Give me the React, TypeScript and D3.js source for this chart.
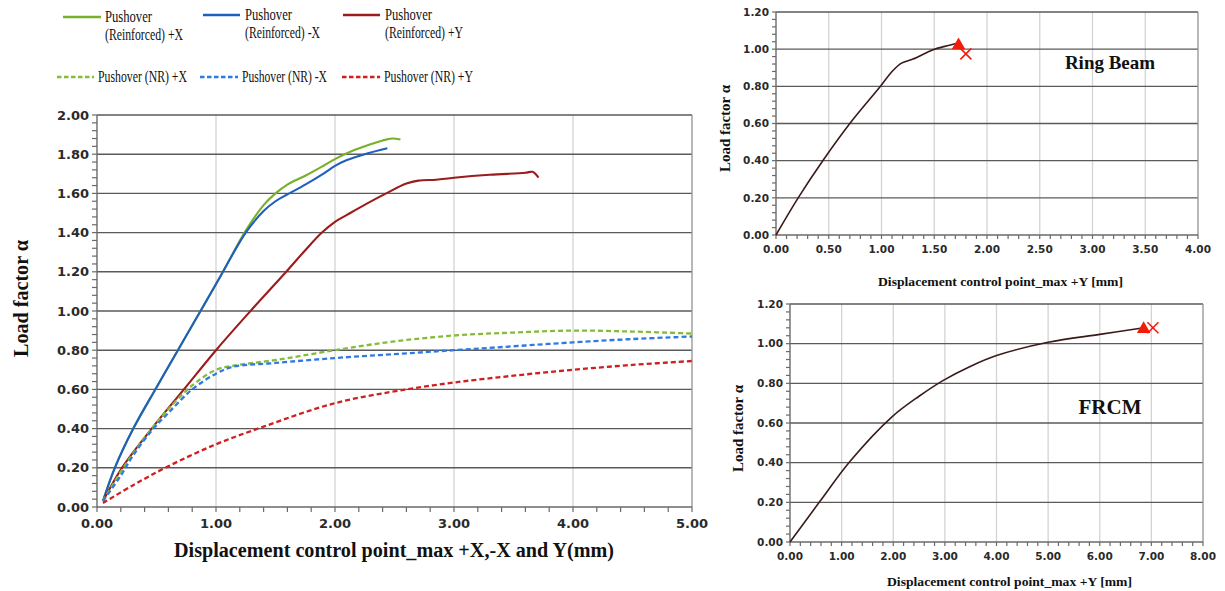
import React from "react";
import * as d3 from "d3";

// ---------- Main chart data ----------
const reinfPX: [number, number][] = [
  [0.05, 0.03], [0.15, 0.2], [0.305, 0.4], [0.49, 0.6], [0.67, 0.79], [0.87, 1.0], [1.04, 1.18],
  [1.25, 1.41], [1.4, 1.54], [1.5, 1.6], [1.6, 1.645], [1.75, 1.69], [1.9, 1.74], [2.0, 1.775],
  [2.1, 1.805], [2.25, 1.84], [2.4, 1.87], [2.48, 1.88], [2.55, 1.875],
];
const reinfNX: [number, number][] = [
  [0.05, 0.03], [0.15, 0.2], [0.305, 0.4], [0.49, 0.6], [0.67, 0.79], [0.87, 1.0], [1.04, 1.18],
  [1.25, 1.4], [1.4, 1.51], [1.5, 1.56], [1.6, 1.595], [1.75, 1.645], [1.9, 1.7], [2.0, 1.74],
  [2.1, 1.77], [2.25, 1.8], [2.44, 1.83],
];
const reinfPY: [number, number][] = [
  [0.05, 0.03], [0.21, 0.2], [0.46, 0.4], [0.73, 0.6], [1.0, 0.8], [1.29, 1.0], [1.59, 1.2],
  [1.75, 1.31], [1.89, 1.4], [2.0, 1.455], [2.1, 1.49], [2.2, 1.525], [2.43, 1.6], [2.6, 1.65],
  [2.7, 1.665], [2.85, 1.67], [3.0, 1.68], [3.3, 1.695], [3.6, 1.705], [3.66, 1.71], [3.71, 1.68],
];
const nrPX: [number, number][] = [
  [0.05, 0.03], [0.2, 0.18], [0.3, 0.27], [0.46, 0.4], [0.6, 0.5], [0.8, 0.62], [1.0, 0.7],
  [1.14, 0.72], [1.5, 0.75], [2.0, 0.8], [2.5, 0.845], [3.0, 0.875], [3.5, 0.89], [4.0, 0.9],
  [4.5, 0.895], [5.0, 0.885],
];
const nrNX: [number, number][] = [
  [0.05, 0.03], [0.2, 0.16], [0.3, 0.26], [0.46, 0.39], [0.6, 0.48], [0.8, 0.6], [1.0, 0.68],
  [1.14, 0.715], [1.5, 0.735], [2.0, 0.76], [2.5, 0.78], [3.0, 0.8], [3.5, 0.82], [4.0, 0.84],
  [4.5, 0.857], [5.0, 0.87],
];
const nrPY: [number, number][] = [
  [0.05, 0.02], [0.3, 0.11], [0.59, 0.205], [1.0, 0.32], [1.4, 0.41], [2.0, 0.53], [2.6, 0.6],
  [3.0, 0.635], [3.5, 0.67], [4.0, 0.7], [4.5, 0.725], [5.0, 0.745],
];

const legendNames = [
  ["Pushover", "(Reinforced) +X"],
  ["Pushover", "(Reinforced) -X"],
  ["Pushover", "(Reinforced) +Y"],
  ["Pushover (NR) +X"],
  ["Pushover (NR) -X"],
  ["Pushover (NR) +Y"],
];
const mainXTicks = [0, 1, 2, 3, 4, 5];
const mainYTicks = [0, 0.2, 0.4, 0.6, 0.8, 1.0, 1.2, 1.4, 1.6, 1.8, 2.0];

// ---------- Ring beam data ----------
const ringBeam: [number, number][] = [
  [0, 0], [0.21, 0.2], [0.45, 0.405], [0.7, 0.6], [0.99, 0.8], [1.1, 0.88], [1.19, 0.925],
  [1.3, 0.947], [1.49, 0.997], [1.6, 1.015], [1.73, 1.033],
];
const ringTriangle: [number, number] = [1.73, 1.02];
const ringCross: [number, number] = [1.8, 0.975];
const ringXTicks = [0, 0.5, 1, 1.5, 2, 2.5, 3, 3.5, 4];

// ---------- FRCM data ----------
const frcm: [number, number][] = [
  [0, 0], [0.58, 0.205], [1.16, 0.406], [1.97, 0.63], [2.5, 0.735], [2.97, 0.815], [3.49, 0.885],
  [4.0, 0.94], [5.0, 1.007], [6.0, 1.047], [6.79, 1.078],
];
const frcmTriangle: [number, number] = [6.85, 1.074];
const frcmCross: [number, number] = [7.03, 1.08];
const frcmXTicks = [0, 1, 2, 3, 4, 5, 6, 7, 8];
const smallYTicks = [0, 0.2, 0.4, 0.6, 0.8, 1.0, 1.2];

const C = {
  green: "#78b02c",
  blue: "#1f5fbf",
  red: "#9c1c1c",
  dGreen: "#86bb3a",
  dBlue: "#2f7ae0",
  dRed: "#cf1f1f",
  curve: "#3b1a1a",
  marker: "#f21c0c",
};

const SANS = "'DejaVu Sans', Verdana, sans-serif";
const SERIF = "'Liberation Serif', 'DejaVu Serif', serif";

type AxisSpec = {
  x0: number; x1: number; y0: number; y1: number;
  xDom: [number, number]; yDom: [number, number];
  xTicks: number[]; yTicks: number[];
  xMinor: number; yMinor: number;
  tickFont: number; tickLen: number;
};

function Frame({ s }: { s: AxisSpec }) {
  const x = d3.scaleLinear().domain(s.xDom).range([s.x0, s.x1]);
  const y = d3.scaleLinear().domain(s.yDom).range([s.y1, s.y0]);
  const xm = d3.range(s.xDom[0], s.xDom[1] + 1e-9, s.xMinor);
  const ym = d3.range(s.yDom[0], s.yDom[1] + 1e-9, s.yMinor);
  return (
    <g>
      {s.xTicks.slice(1).map((t) => (
        <line key={"vg" + t} x1={x(t)} x2={x(t)} y1={s.y0} y2={s.y1} stroke="#d4d4d4" strokeWidth={1.3} />
      ))}
      {s.yTicks.slice(1).map((t) => (
        <line key={"hg" + t} x1={s.x0} x2={s.x1} y1={y(t)} y2={y(t)} stroke="#5a5a5a" strokeWidth={1.4} />
      ))}
      <line x1={s.x1} x2={s.x1} y1={s.y0} y2={s.y1} stroke="#9a9a9a" strokeWidth={1.2} />
      <line x1={s.x0} x2={s.x0} y1={s.y0} y2={s.y1} stroke="#6a6a6a" strokeWidth={1.4} />
      <line x1={s.x0} x2={s.x1} y1={s.y1} y2={s.y1} stroke="#6a6a6a" strokeWidth={1.4} />
      {xm.map((t, i) => (
        <line key={"xm" + i} x1={x(t)} x2={x(t)} y1={s.y1} y2={s.y1 + s.tickLen} stroke="#6a6a6a" strokeWidth={1.2} />
      ))}
      {ym.map((t, i) => (
        <line key={"ym" + i} x1={s.x0 - s.tickLen} x2={s.x0} y1={y(t)} y2={y(t)} stroke="#6a6a6a" strokeWidth={1.2} />
      ))}
      {s.xTicks.map((t) => (
        <text key={"xt" + t} x={x(t)} y={s.y1 + s.tickLen + s.tickFont + 3} textAnchor="middle"
          fontFamily={SANS} fontWeight="bold" fontSize={s.tickFont} fill="#2a2a2a">
          {t.toFixed(2)}
        </text>
      ))}
      {s.yTicks.map((t) => (
        <text key={"yt" + t} x={s.x0 - s.tickLen - 3} y={y(t)} dy="0.35em" textAnchor="end"
          fontFamily={SANS} fontWeight="bold" fontSize={s.tickFont} fill="#2a2a2a">
          {t.toFixed(2)}
        </text>
      ))}
    </g>
  );
}

function Triangle({ cx, cy, size }: { cx: number; cy: number; size: number }) {
  const p = d3.symbol().type(d3.symbolTriangle).size(size)();
  return <path d={p || ""} transform={`translate(${cx},${cy})`} fill={C.marker} />;
}
function Cross({ cx, cy, r }: { cx: number; cy: number; r: number }) {
  return (
    <g stroke={C.marker} strokeWidth={1.6}>
      <line x1={cx - r} y1={cy - r} x2={cx + r} y2={cy + r} />
      <line x1={cx - r} y1={cy + r} x2={cx + r} y2={cy - r} />
    </g>
  );
}

export default function App() {
  const m: AxisSpec = {
    x0: 97, x1: 692, y0: 115, y1: 507, xDom: [0, 5], yDom: [0, 2],
    xTicks: mainXTicks, yTicks: mainYTicks, xMinor: 0.2, yMinor: 0.04, tickFont: 13, tickLen: 5,
  };
  const mx = d3.scaleLinear().domain(m.xDom).range([m.x0, m.x1]);
  const my = d3.scaleLinear().domain(m.yDom).range([m.y1, m.y0]);
  const mLine = d3.line<[number, number]>().x((d) => mx(d[0])).y((d) => my(d[1])).curve(d3.curveCatmullRom.alpha(0.5));

  const series = [
    { d: reinfPX, c: C.green, dash: false },
    { d: reinfNX, c: C.blue, dash: false },
    { d: reinfPY, c: C.red, dash: false },
    { d: nrPX, c: C.dGreen, dash: true },
    { d: nrNX, c: C.dBlue, dash: true },
    { d: nrPY, c: C.dRed, dash: true },
  ];

  const legendPos = [
    { lx0: 63, lx1: 101, ly: 17, tx: 105, ty: [22, 40], w: [47, 78] },
    { lx0: 203, lx1: 240, ly: 15, tx: 245, ty: [20, 38], w: [47, 75] },
    { lx0: 343, lx1: 380, ly: 15, tx: 385, ty: [20, 38], w: [47, 78] },
    { lx0: 57, lx1: 94, ly: 77, tx: 98, ty: [82], w: [89] },
    { lx0: 200, lx1: 238, ly: 77, tx: 242, ty: [82], w: [85] },
    { lx0: 342, lx1: 380, ly: 77, tx: 384, ty: [82], w: [89] },
  ];

  const r: AxisSpec = {
    x0: 776, x1: 1198, y0: 12, y1: 235, xDom: [0, 4], yDom: [0, 1.2],
    xTicks: ringXTicks, yTicks: smallYTicks, xMinor: 0.1, yMinor: 0.04, tickFont: 10.5, tickLen: 4,
  };
  const rx = d3.scaleLinear().domain(r.xDom).range([r.x0, r.x1]);
  const ry = d3.scaleLinear().domain(r.yDom).range([r.y1, r.y0]);
  const rLine = d3.line<[number, number]>().x((d) => rx(d[0])).y((d) => ry(d[1])).curve(d3.curveCatmullRom.alpha(0.5));

  const f: AxisSpec = {
    x0: 790, x1: 1203, y0: 304, y1: 542, xDom: [0, 8], yDom: [0, 1.2],
    xTicks: frcmXTicks, yTicks: smallYTicks, xMinor: 0.2, yMinor: 0.04, tickFont: 10.5, tickLen: 4,
  };
  const fx = d3.scaleLinear().domain(f.xDom).range([f.x0, f.x1]);
  const fy = d3.scaleLinear().domain(f.yDom).range([f.y1, f.y0]);
  const fLine = d3.line<[number, number]>().x((d) => fx(d[0])).y((d) => fy(d[1])).curve(d3.curveCatmullRom.alpha(0.5));

  return (
    <svg width={1225} height={591} style={{ position: "absolute", left: 0, top: 0, background: "#fff" }}>
      <rect width={1225} height={591} fill="#fff" />
      {/* main chart */}
      <Frame s={m} />
      {series.map((s, i) => (
        <path key={i} d={mLine(s.d) || ""} fill="none" stroke={s.c}
          strokeWidth={s.dash ? 2.3 : 2.1} strokeDasharray={s.dash ? "5 3" : undefined} strokeLinejoin="round" />
      ))}
      {legendPos.map((p, i) => (
        <g key={"lg" + i}>
          <line x1={p.lx0} x2={p.lx1} y1={p.ly} y2={p.ly} stroke={series[i].c} strokeWidth={2.6}
            strokeDasharray={series[i].dash ? "4.5 2.5" : undefined} />
          {legendNames[i].map((t, j) => (
            <text key={j} x={p.tx} y={p.ty[j]} fontFamily={SERIF} fontSize={16} fill="#111"
              textLength={p.w[j]} lengthAdjust="spacingAndGlyphs">{t}</text>
          ))}
        </g>
      ))}
      <text x={174} y={557} fontFamily={SERIF} fontWeight="bold" fontSize={20} fill="#111"
        textLength={440} lengthAdjust="spacingAndGlyphs">
        Displacement control point_max +X,-X and Y(mm)
      </text>
      <text transform="translate(28,357) rotate(-90)" fontFamily={SERIF} fontWeight="bold"
        fontSize={21} fill="#111" textLength={117} lengthAdjust="spacingAndGlyphs">Load factor α</text>

      {/* ring beam */}
      <Frame s={r} />
      <path d={rLine(ringBeam) || ""} fill="none" stroke={C.curve} strokeWidth={1.6} />
      <Triangle cx={rx(ringTriangle[0])} cy={ry(ringTriangle[1])} size={80} />
      <Cross cx={rx(ringCross[0])} cy={ry(ringCross[1])} r={5.5} />
      <text x={1110} y={69} textAnchor="middle" fontFamily={SERIF} fontWeight="bold" fontSize={19} fill="#111">Ring Beam</text>
      <text x={878} y={286} fontFamily={SERIF} fontWeight="bold" fontSize={13} fill="#111"
        textLength={245} lengthAdjust="spacingAndGlyphs">
        Displacement control point_max +Y [mm]
      </text>
      <text transform="translate(730,172) rotate(-90)" fontFamily={SERIF} fontWeight="bold"
        fontSize={14} fill="#111" textLength={87} lengthAdjust="spacingAndGlyphs">Load factor α</text>

      {/* FRCM */}
      <Frame s={f} />
      <path d={fLine(frcm) || ""} fill="none" stroke={C.curve} strokeWidth={1.6} />
      <Triangle cx={fx(frcmTriangle[0])} cy={fy(frcmTriangle[1])} size={80} />
      <Cross cx={fx(frcmCross[0])} cy={fy(frcmCross[1])} r={5.5} />
      <text x={1110} y={414} textAnchor="middle" fontFamily={SERIF} fontWeight="bold" fontSize={21} fill="#111">FRCM</text>
      <text x={887} y={586} fontFamily={SERIF} fontWeight="bold" fontSize={13} fill="#111"
        textLength={245} lengthAdjust="spacingAndGlyphs">
        Displacement control point_max +Y [mm]
      </text>
      <text transform="translate(743,472) rotate(-90)" fontFamily={SERIF} fontWeight="bold"
        fontSize={14} fill="#111" textLength={87} lengthAdjust="spacingAndGlyphs">Load factor α</text>
    </svg>
  );
}
